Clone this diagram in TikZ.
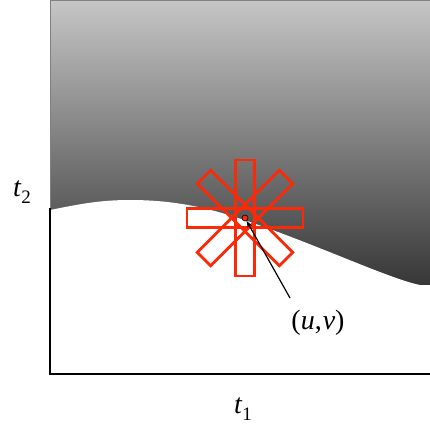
\documentclass[tikz,border=0pt]{standalone}
\usepackage{fontspec}
\setmainfont{Liberation Serif}
\usetikzlibrary{arrows.meta}
\definecolor{gtop}{RGB}{198,198,198}
\definecolor{gbot}{RGB}{54,54,54}
\definecolor{starred}{RGB}{250,42,8}
\tikzset{
  axisline/.style={line width=2.6pt, black},
  arm/.style={draw=starred, line width=2.8pt, minimum width=116pt, minimum height=19pt, inner sep=0pt, fill=none},
  lbl/.style={font=\fontsize{28}{28}\selectfont, inner sep=0pt},
}
\newcommand{\sublbl}[1]{\raisebox{-0.5ex}{\fontsize{19}{19}\selectfont #1}}
\begin{document}
\begin{tikzpicture}[x=1pt,y=-1pt]
\useasboundingbox (0,0) rectangle (430,433);
% gradient region
\shade[top color=gtop, bottom color=gbot] (50,0) rectangle (430,286);
\draw[gray, line width=0.8pt] (50,210) -- (50,0.4) -- (430,0.4);
% white region under the curve
\fill[white] (50,210) .. controls (80,204) and (100,200) .. (130,200)
  .. controls (175,200) and (210,208) .. (250,222)
  .. controls (320,246) and (390,279) .. (420,285) -- (431,285)
  -- (431,374) -- (50,374) -- cycle;
% axes
\coordinate (ytop) at (50,208);
\coordinate (origin) at (50,374);
\coordinate (xend) at (431,374);
\draw[axisline] (ytop) -- (origin) -- (xend);
% star
\node[circle, inner sep=0pt, minimum size=0pt] (c) at (245,218) {};
\node[arm] (a0) at (c) {};
\node[arm, rotate=45] (a1) at (c) {};
\node[arm, rotate=90] (a2) at (c) {};
\node[arm, rotate=135] (a3) at (c) {};
\node[circle, draw=black, fill=starred, line width=0.6pt, minimum size=6pt, inner sep=0pt] (dot) at (c) {};
% labels
\node[lbl] (t2) at (22,192) {\textit{t}\sublbl{2}};
\node[lbl] (t1) at (243,409) {\textit{t}\sublbl{1}};
\node[lbl] (uv) at (318,323) {(\textit{u},\kern1pt\textit{v})};
\coordinate (astart) at (290,298);
\draw[black, line width=1.2pt, -{Stealth[length=7pt,width=5pt]}] (astart) -- (dot);
\end{tikzpicture}
\end{document}
